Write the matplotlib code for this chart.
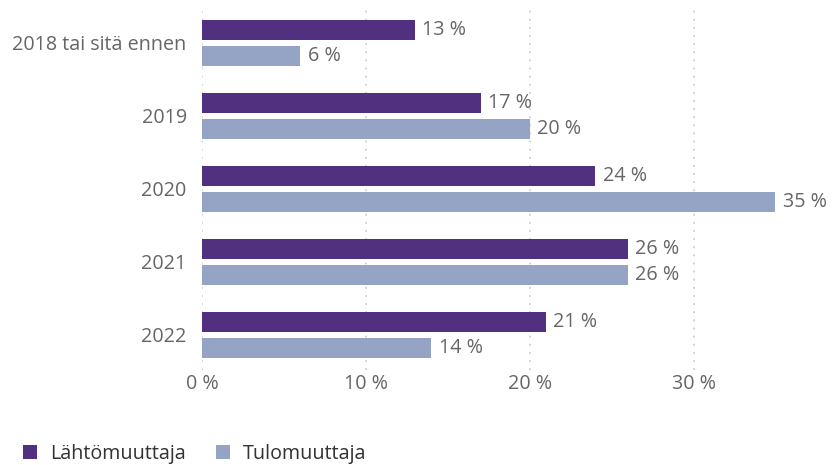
import numpy as np
import matplotlib.pyplot as plt

categories = ["2018 tai sitä ennen", "2019", "2020", "2021", "2022"]
lahto = [13, 17, 24, 26, 21]
tulo = [6, 20, 35, 26, 14]
series_names = ["Lähtömuuttaja", "Tulomuuttaja"]
xticks = [0, 10, 20, 30]

purple = "#51307f"
light = "#95a4c5"
grey = "#666666"

plt.rcParams['font.family'] = ['Open Sans', 'DejaVu Sans']

W, H = 839, 465
fig = plt.figure(figsize=(W / 100, H / 100), dpi=100)
# axes box in pixels: left 202, right 800, top 5, bottom 370
ax = fig.add_axes([202 / W, 1 - 370 / H, (800 - 202) / W, 365 / H])

y = np.arange(len(categories))
h = 0.27
off = 0.178
b1 = ax.barh(y - off, lahto, height=h, color=purple, label=series_names[0], zorder=3)
b2 = ax.barh(y + off, tulo, height=h, color=light, label=series_names[1], zorder=3)

for bars, vals in ((b1, lahto), (b2, tulo)):
    for r, v in zip(bars, vals):
        ax.text(r.get_width() + 0.45, r.get_y() + r.get_height() / 2, f"{v} %",
                va='center', ha='left', fontsize=14.2, color=grey, clip_on=False)

ax.set_xlim(0, 36.5)
ax.set_ylim(4.48, -0.52)
ax.set_xticks(xticks)
ax.set_xticklabels([f"{t} %" for t in xticks])
ax.set_yticks(y)
ax.set_yticklabels(categories)
ax.tick_params(axis='both', length=0, labelsize=14.2, labelcolor=grey)
ax.tick_params(axis='y', pad=11)
ax.tick_params(axis='x', pad=3)
ax.grid(axis='x', color='#cfcfcf', linestyle=(0, (1, 3.5)), linewidth=1.3, zorder=0)
for s in ax.spines.values():
    s.set_visible(False)

fig.legend(handles=[b1, b2], loc='lower left', bbox_to_anchor=(5 / W, -0.035),
           ncol=2, frameon=False, fontsize=14.2, handlelength=0.7, handleheight=0.7,
           handletextpad=0.7, columnspacing=1.5, labelcolor='#333333')

fig.savefig("out.png", dpi=100)
